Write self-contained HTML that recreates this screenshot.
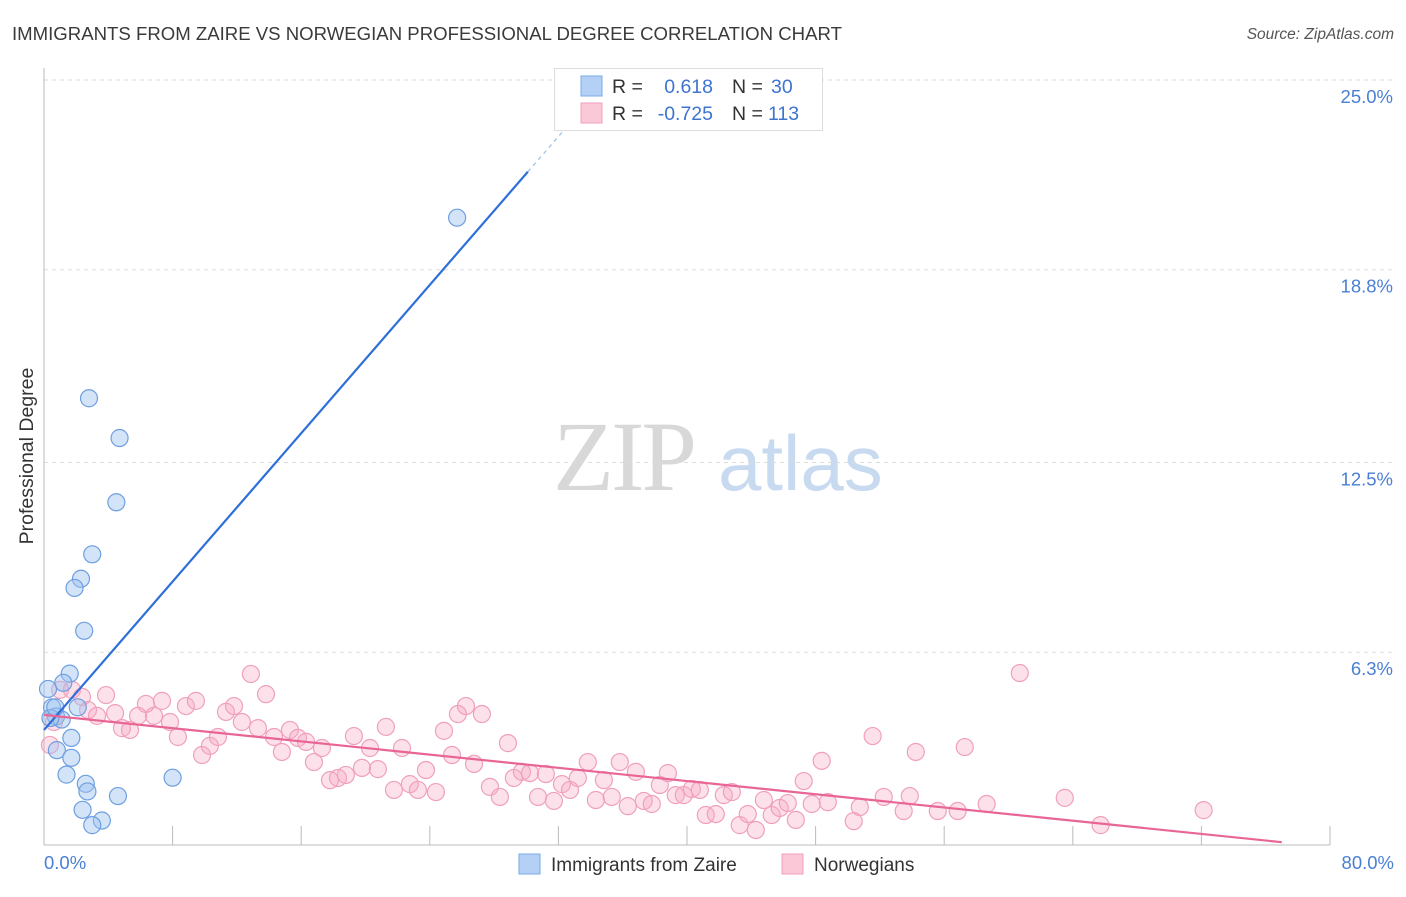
<!DOCTYPE html>
<html><head><meta charset="utf-8"><style>
body{margin:0;background:#fff;font-family:"Liberation Sans",sans-serif;}
svg text{font-family:"Liberation Sans",sans-serif;}
</style></head><body>
<svg id="chart" width="1406" height="892" xmlns="http://www.w3.org/2000/svg">
<text x="12" y="40" font-size="18.6" fill="#3a3a3a">IMMIGRANTS FROM ZAIRE VS NORWEGIAN PROFESSIONAL DEGREE CORRELATION CHART</text>
<text x="1394" y="39" font-size="15.5" fill="#555" text-anchor="end" font-style="italic">Source: ZipAtlas.com</text>
<text transform="translate(33,456) rotate(-90)" font-size="19.5" fill="#333" text-anchor="middle">Professional Degree</text>
<g>
<text x="553" y="490" font-size="100" fill="#d8d8d8" style="font-family:'Liberation Serif',serif" letter-spacing="-3">ZIP</text>
<text x="718" y="490" font-size="78" fill="#c8daf0">atlas</text>
</g>
<g id="grid"></g><g id="axes"></g><g id="pts"></g><g id="lines"></g>
<g>
<rect x="554.5" y="68.5" width="268" height="62" fill="#fff" stroke="#ddd"/>
<rect x="581" y="76" width="21" height="20" fill="#b5d0f5" stroke="#7aaae8"/>
<rect x="581" y="103" width="21" height="20" fill="#fbc8d8" stroke="#f0a0bb"/>
<text x="612" y="93" font-size="19.5" fill="#333">R =</text>
<text x="713" y="93" font-size="19.5" fill="#3d74d0" text-anchor="end">0.618</text>
<text x="732" y="93" font-size="19.5" fill="#333">N =</text>
<text x="771" y="93" font-size="19.5" fill="#3d74d0">30</text>
<text x="612" y="120" font-size="19.5" fill="#333">R =</text>
<text x="713" y="120" font-size="19.5" fill="#3d74d0" text-anchor="end">-0.725</text>
<text x="732" y="120" font-size="19.5" fill="#333">N =</text>
<text x="768" y="120" font-size="19.5" fill="#3d74d0">113</text>
</g>
<g>
<rect x="519" y="854" width="21" height="20" fill="#b5d0f5" stroke="#7aaae8"/>
<text x="551" y="871" font-size="19" fill="#333">Immigrants from Zaire</text>
<rect x="782" y="854" width="21" height="20" fill="#fbc8d8" stroke="#f0a0bb"/>
<text x="814" y="871" font-size="19" fill="#333">Norwegians</text>
</g>
</svg>
<script>
const yTicks=[25.0,18.8,12.5,6.3];
const yTickLabels=["25.0%","18.8%","12.5%","6.3%"];
const xLabels=["0.0%","80.0%"];
const blueX=[25.7,2.8,4.7,4.5,3.0,2.3,1.9,2.5,1.6,1.2,0.25,0.5,2.1,0.75,1.1,0.4,1.7,0.8,1.7,1.4,2.6,8.0,2.7,4.6,2.4,3.6,3.0,0.7];
const blueY=[20.5,14.6,13.3,11.2,9.5,8.7,8.4,7.0,5.6,5.3,5.1,4.5,4.5,4.2,4.1,4.15,3.5,3.1,2.85,2.3,2.0,2.2,1.75,1.6,1.15,0.8,0.65,4.5];
const pinkX=[0.37,1.0,1.74,2.36,0.62,2.74,3.3,3.86,4.42,4.85,5.35,5.85,6.34,6.84,7.34,7.84,8.33,8.83,9.45,9.83,10.32,10.82,11.32,11.82,12.31,12.87,13.31,13.81,14.31,14.8,15.3,15.8,16.3,16.79,17.29,17.79,18.29,18.78,19.28,19.78,20.28,20.77,21.27,21.77,22.27,22.76,23.26,23.76,24.38,24.88,25.38,25.75,26.25,26.75,27.24,27.74,28.36,28.86,29.23,29.73,30.23,30.73,31.22,31.72,32.22,32.72,33.21,33.83,34.33,34.83,35.32,35.82,36.32,36.82,37.31,37.81,38.31,38.81,39.3,39.8,40.3,40.8,41.17,41.79,42.29,42.79,43.28,43.78,44.28,44.78,45.27,45.77,46.27,46.77,47.26,47.76,48.38,48.76,50.37,50.75,51.55,52.24,53.48,53.86,54.23,55.6,56.84,57.28,58.64,60.7,63.5,65.73,72.14];
const pinkY=[3.27,5.07,5.07,4.84,4.02,4.41,4.22,4.9,4.31,3.82,3.76,4.22,4.61,4.22,4.71,4.02,3.53,4.54,4.71,2.94,3.24,3.53,4.35,4.54,4.02,5.59,3.82,4.93,3.53,3.04,3.76,3.5,3.37,2.71,3.17,2.12,2.19,2.29,3.56,2.52,3.17,2.48,3.86,1.8,3.17,1.99,1.8,2.45,1.73,3.73,2.94,4.28,4.54,2.65,4.28,1.9,1.57,3.33,2.19,2.39,2.35,1.57,2.32,1.44,1.99,1.8,2.19,2.71,1.47,2.12,1.57,2.71,1.27,2.39,1.44,1.34,1.96,2.35,1.63,1.63,1.83,1.8,0.98,1.01,1.63,1.73,0.65,1.01,0.49,1.47,0.98,1.21,1.37,0.82,2.09,1.34,2.75,1.4,0.78,1.24,3.56,1.57,1.11,1.6,3.04,1.11,1.11,3.2,1.34,5.62,1.54,0.65,1.14];
const blueLine={a:3.76,b:0.606,x1:0,x2:30.1,x3:33.0};
const pinkLine={a:4.25,b:-0.054,x1:0,x2:77};
const NS="http://www.w3.org/2000/svg";
const X=v=>44+v*16.075, Y=v=>845-v*30.6;
function mk(tag,attrs,parent){const e=document.createElementNS(NS,tag);for(const k in attrs)e.setAttribute(k,attrs[k]);document.getElementById(parent).appendChild(e);return e;}
yTicks.forEach((t,i)=>{
 const g=mk('line',{x1:44,x2:1394,y1:Y(t),y2:Y(t),stroke:'#ddd','stroke-dasharray':'4,4'},'grid');
 
 
 const l=mk('text',{x:1393,y:Y(t)+23,'font-size':18.5,fill:'#4a7fd4','text-anchor':'end'},'grid');l.textContent=yTickLabels[i];
 
 
});
let a=mk('line',{x1:44,x2:44,y1:68,y2:845,stroke:'#bbb'},'axes');


a=mk('line',{x1:44,x2:1330,y1:845,y2:845,stroke:'#bbb'},'axes');


for(let i=1;i<=10;i++){const t=mk('line',{x1:X(i*8),x2:X(i*8),y1:826,y2:845,stroke:'#bbb'},'axes');
 
 }
[[0,'start',44],[80,'end',1394]].forEach((d,i)=>{const t=mk('text',{x:d[2],y:869,'font-size':18.5,fill:'#4a7fd4','text-anchor':d[1]},'axes');t.textContent=xLabels[i];
 
 });
pinkX.forEach((x,i)=>{const c=mk('circle',{cx:X(x),cy:Y(pinkY[i]),r:8.5,fill:'rgba(245,170,195,0.35)',stroke:'#f0a0bb','stroke-width':1.2},'pts');
 
 });
blueX.forEach((x,i)=>{const c=mk('circle',{cx:X(x),cy:Y(blueY[i]),r:8.5,fill:'rgba(160,196,240,0.45)',stroke:'#6d9fe0','stroke-width':1.2},'pts');
 
 });
let ln=mk('line',{x1:X(blueLine.x1),y1:Y(blueLine.a+blueLine.b*blueLine.x1),x2:X(blueLine.x2),y2:Y(blueLine.a+blueLine.b*blueLine.x2),stroke:'#2e6fd8','stroke-width':2.2},'lines');


ln=mk('line',{x1:X(blueLine.x2),y1:Y(blueLine.a+blueLine.b*blueLine.x2),x2:X(blueLine.x3),y2:Y(blueLine.a+blueLine.b*blueLine.x3),stroke:'#9bbbe8','stroke-width':1.2,'stroke-dasharray':'4,4'},'lines');


ln=mk('line',{x1:X(pinkLine.x1),y1:Y(pinkLine.a+pinkLine.b*pinkLine.x1),x2:X(pinkLine.x2),y2:Y(pinkLine.a+pinkLine.b*pinkLine.x2),stroke:'#e86595','stroke-width':2.2},'lines');


</script>
</body></html>
